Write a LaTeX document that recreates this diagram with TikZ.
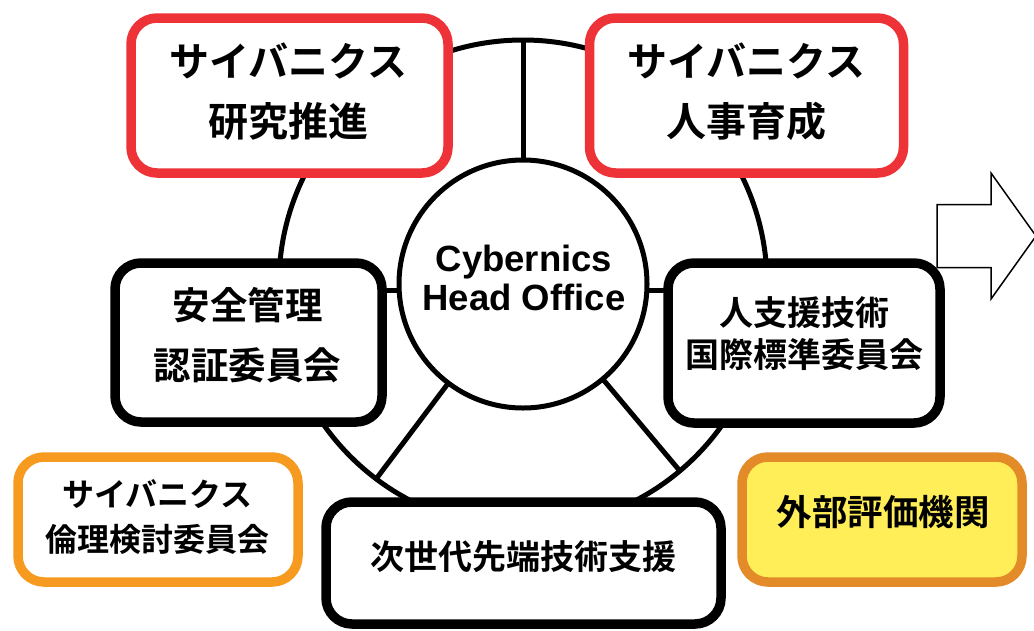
\documentclass[tikz,border=0pt]{standalone}
\usepackage{fontspec}
\setmainfont{Liberation Sans}[BoldFont={Liberation Sans Bold}]
\newfontfamily\hubfont{Liberation Sans}[UprightFont={* Bold}]
\newfontfamily\jp{Noto Sans CJK JP}[UprightFont={* Bold}]
\definecolor{cred}{HTML}{EE3338}
\definecolor{corange}{HTML}{F79A20}
\definecolor{cyellow}{HTML}{FFEE58}
\definecolor{cyborder}{HTML}{E38B29}
\begin{document}
\begin{tikzpicture}[x=1pt,y=-1pt,
  box/.style={draw, rounded corners=26pt, line width=9.5pt, fill=white, inner sep=0pt, outer sep=0pt},
  lbl/.style={align=center, inner sep=0pt},
  ln/.style={line width=5pt},
  ringst/.style={circle, draw, line width=5pt, inner sep=0pt, outer sep=0pt}]
\useasboundingbox (0,0) rectangle (1034,630);
% ring
\node[ringst, minimum size=488pt] (ring) at (523,284) {};
% boxes
\node[box, draw=cred, minimum width=317pt, minimum height=155pt] (tl) at (289.5,95.5) {};
\node[box, draw=cred, minimum width=314pt, minimum height=155pt] (tr) at (746.5,95.5) {};
\node[box, minimum width=267pt, minimum height=159pt] (lb) at (248.5,342.5) {};
\node[box, minimum width=272pt, minimum height=160pt] (rb) at (804,343) {};
\node[box, minimum width=395pt, minimum height=122pt] (bb) at (523.5,563) {};
\node[box, draw=corange, minimum width=280pt, minimum height=125pt] (ob) at (158,519.5) {};
\node[box, draw=cyborder, fill=cyellow, minimum width=280pt, minimum height=125pt] (yb) at (882,519.5) {};
% hub
\node[ringst, fill=white, minimum size=248pt] (hub) at (523,284) {};
% spokes
\draw[ln] (hub.north) -- (ring.north);
\draw[ln] (hub.-177) -- (hub.-177 -| lb.east);
\draw[ln] (hub.-3) -- (hub.-3 -| rb.west);
\draw[ln] (hub.-127) -- (ring.-127);
\draw[ln] (hub.-50) -- (ring.-50);
% labels
\node[lbl, font=\jp\fontsize{40}{60}\selectfont] (tlt) at (288,92) {サイバニクス\\研究推進};
\node[lbl, font=\jp\fontsize{40}{60}\selectfont] (trt) at (746,92) {サイバニクス\\人事育成};
\node[lbl, font=\jp\fontsize{37.5}{60}\selectfont] (lbt) at (247.5,335) {安全管理\\認証委員会};
\node[lbl, font=\jp\fontsize{34}{42}\selectfont] (rbt) at (804.5,334) {人支援技術\\国際標準委員会};
\node[lbl, font=\jp\fontsize{34}{42}\selectfont] (bbt) at (523.5,557) {次世代先端技術支援};
\node[lbl, font=\jp\fontsize{32}{45}\selectfont] (obt) at (157.5,517.5) {サイバニクス\\倫理検討委員会};
\node[lbl, font=\jp\fontsize{35.5}{42}\selectfont] (ybt) at (883,512) {外部評価機関};
\node[lbl, font=\hubfont\fontsize{36.5}{39}\selectfont] (hubt) at (524,277.5) {Cybernics\\Head Office};
% arrow
\draw[line width=1.5pt, line join=miter, fill=white] (937,204.5) -- (991,204.5) -- (991,173) -- (1036,236) -- (991,299) -- (991,267.5) -- (937,267.5) -- cycle;
\end{tikzpicture}
\end{document}
